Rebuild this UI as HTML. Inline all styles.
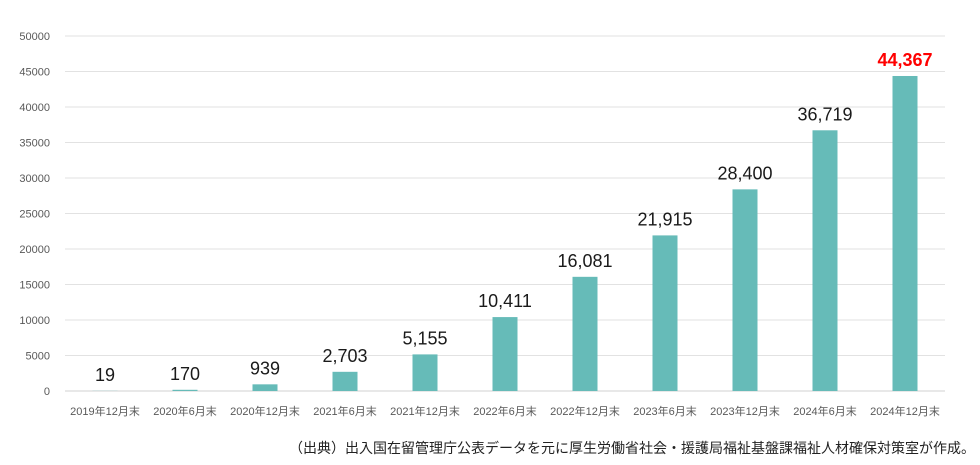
<!DOCTYPE html>
<html><head><meta charset="utf-8"><style>
body{margin:0;background:#fff;width:980px;height:465px;overflow:hidden}
svg{display:block}
text{font-family:"Liberation Sans","Noto Sans CJK JP",sans-serif}
</style></head><body>
<svg id="chart" width="980" height="465"></svg>
<script>
const categories=["2019年12月末","2020年6月末","2020年12月末","2021年6月末","2021年12月末","2022年6月末","2022年12月末","2023年6月末","2023年12月末","2024年6月末","2024年12月末"];
const values=[19,170,939,2703,5155,10411,16081,21915,28400,36719,44367];
const valueLabels=["19","170","939","2,703","5,155","10,411","16,081","21,915","28,400","36,719","44,367"];
const yTicks=[0,5000,10000,15000,20000,25000,30000,35000,40000,45000,50000];
const NS="http://www.w3.org/2000/svg";
const svg=document.getElementById('chart');
const L=65,R=945,Y0=391,Ytop=36,YMAX=50000;
const y=v=>Y0-(v/YMAX)*(Y0-Ytop);
const band=(R-L)/categories.length;
const x=i=>L+band*(i+0.5);
function mk(t,a){const e=document.createElementNS(NS,t);for(const k in a)e.setAttribute(k,a[k]);svg.appendChild(e);return e;}
yTicks.forEach(v=>{
  const g=mk('line',{x1:L,x2:R,y1:y(v),y2:y(v),stroke:v===0?'#d0d0d0':'#e2e2e2','stroke-width':1});
  
  
  const t=mk('text',{x:50,y:y(v)+4,'text-anchor':'end','font-size':11,fill:'#595959'});
  t.textContent=v;
  
  
});
categories.forEach((c,i)=>{
  const b=mk('rect',{x:x(i)-12.5,y:y(values[i]),width:25,height:Y0-y(values[i]),fill:'#66bbb8'});
  
  
  const last=i===categories.length-1;
  const vl=mk('text',{x:x(i),y:y(values[i])-10,'text-anchor':'middle','font-size':18,'font-weight':last?'bold':'normal',fill:last?'#ff0000':'#1a1a1a'});
  vl.textContent=valueLabels[i];
  
  
  const cl=mk('text',{x:x(i),y:415,'text-anchor':'middle','font-size':11,fill:'#595959'});
  cl.textContent=c;
  
  
});
const src=mk('text',{x:975,y:453,'text-anchor':'end','font-size':14,fill:'#222'});
src.textContent="（出典）出入国在留管理庁公表データを元に厚生労働省社会・援護局福祉基盤課福祉人材確保対策室が作成。";


</script>
</body></html>
